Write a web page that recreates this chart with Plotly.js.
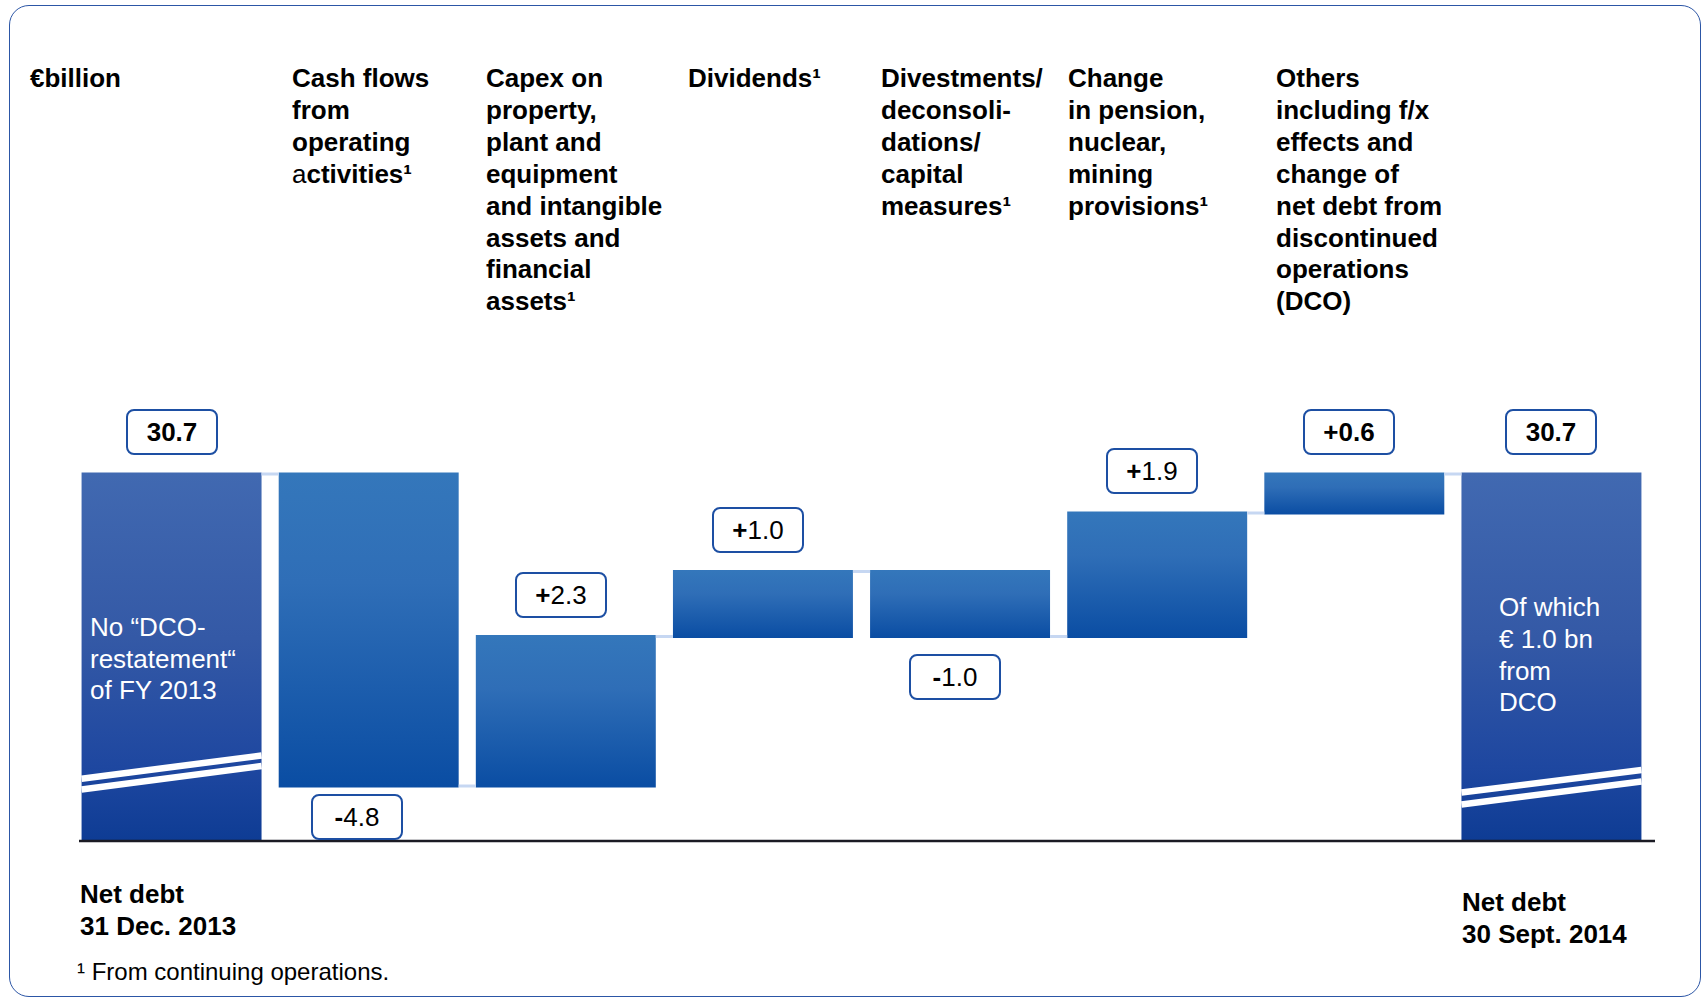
<!DOCTYPE html>
<html><head><meta charset="utf-8">
<script src="https://cdn.plot.ly/plotly-3.0.1.min.js"></script>
<style>
html,body{margin:0;padding:0;background:#fff;}
#chart{position:absolute;left:0;top:0;width:1707px;height:998px;}
#frame{position:absolute;left:9px;top:5px;width:1690px;height:990px;border:1.5px solid #2C56A6;border-radius:20px;pointer-events:none;}
</style></head><body>
<div id="chart"></div><div id="frame"></div>
<script>
// ---------- data ----------
const categories = ["Net debt 31 Dec. 2013","Cash flows from operating activities","Capex","Dividends","Divestments","Pension, nuclear, mining provisions","Others incl. DCO","Net debt 30 Sept. 2014"];
const measures = ["absolute","relative","relative","relative","relative","relative","relative","total"];
const values = [30.7, -4.8, 2.3, 1.0, -1.0, 1.9, 0.6, 30.7];
const unitLabel = "€billion";
const hdrCash = ["Cash flows","from","operating","<span style=\"font-weight:normal\">a</span>ctivities¹"];
const hdrCapex = ["Capex on","property,","plant and","equipment","and intangible","assets and","financial","assets¹"];
const hdrDividends = ["Dividends¹"];
const hdrDivest = ["Divestments/","deconsoli-","dations/","capital","measures¹"];
const hdrPension = ["Change","in pension,","nuclear,","mining","provisions¹"];
const hdrOthers = ["Others","including f/x","effects and","change of","net debt from","discontinued","operations","(DCO)"];
const startLabel = ["Net debt","31 Dec. 2013"];
const endLabel = ["Net debt","30 Sept. 2014"];
const startNote = ["No “DCO-","restatement“","of FY 2013"];
const endNote = ["Of which","€ 1.0 bn","from","DCO"];
const footnote = "¹ From continuing operations.";

// ---------- layout helpers ----------
const W = 1707, H = 998, ML = 73, MR = 57, MT = 340, MB = 157;
const PW = W - ML - MR, PH = H - MT - MB;
const px2x = px => (px - ML) / PW;
const py2y = py => (H - MB - py) / PH;
const FONT = "'Liberation Sans', Arial, sans-serif";

// running levels
const levels = [];
let run = 0;
values.forEach((v, i) => {
  if (measures[i] === 'absolute') run = v;
  else if (measures[i] === 'relative') run = run + v;
  levels.push(Math.round(run * 10) / 10);
});

const annotations = [];
function addLines(lines, xpx, ypx, dy, font, extra) {
  lines.forEach((t, k) => {
    annotations.push(Object.assign({
      xref: 'paper', yref: 'paper', x: px2x(xpx), y: py2y(ypx + k * dy),
      xanchor: 'left', yanchor: 'middle', showarrow: false, align: 'left',
      text: t, font: font, borderpad: 0, borderwidth: 0
    }, extra || {}));
  });
}
const hdrFont = {family: FONT, size: 26, color: '#000', weight: 700};
const LS = 31.9;
addLines([unitLabel], 30, 78, LS, hdrFont);
addLines(hdrCash, 292, 78, LS, hdrFont);
addLines(hdrCapex, 486, 78, LS, hdrFont);
addLines(hdrDividends, 688, 78, LS, hdrFont);
addLines(hdrDivest, 881, 78, LS, hdrFont);
addLines(hdrPension, 1068, 78, LS, hdrFont);
addLines(hdrOthers, 1276, 78, LS, hdrFont);
addLines(startLabel, 80, 894, 31.5, hdrFont);
addLines(endLabel, 1462, 902, 31.5, hdrFont);
const noteFont = {family: FONT, size: 26, color: '#ffffff'};
addLines(startNote, 90, 627, 31.5, noteFont);
addLines(endNote, 1499, 607, 31.8, noteFont);
addLines([footnote], 77, 971, 30, {family: FONT, size: 24, color: '#000'});

// value boxes
values.forEach((v, i) => {
  const isTotal = measures[i] !== 'relative';
  let txt;
  if (isTotal) txt = '<b>' + levels[i].toFixed(1) + '</b>';
  else {
    const sign = v > 0 ? '+' : '-';
    const num = Math.abs(v).toFixed(1);
    txt = (i === 6) ? '<b>' + sign + num + '</b>' : '<b>' + sign + '</b>' + num;
  }
  const up = isTotal || v > 0;
  annotations.push({
    xref: 'x', yref: 'y', x: i, y: levels[i],
    xanchor: 'center', yanchor: up ? 'bottom' : 'top',
    yshift: up ? 19 : (i === 1 ? -8 : -17),
    xshift: isTotal ? 0 : (i === 1 ? -12 : -5),
    showarrow: false, text: txt,
    font: {family: FONT, size: 26, color: '#000'},
    bgcolor: '#ffffff', bordercolor: '#1D4FA3', borderwidth: 2, borderpad: 2,
    width: 84, height: 38
  });
});

// decorative shapes: baseline + axis break marks
const HW = 0.4565;
const shapes = [
  {type: 'line', xref: 'paper', yref: 'paper', x0: px2x(79), x1: px2x(1655), y0: 0, y1: 0,
   line: {color: '#1b1b24', width: 2.5}, layer: 'above'}
];
function breakMark(i, yl, yr) {
  shapes.push({type: 'line', xref: 'x', yref: 'paper', x0: i - HW, x1: i + HW,
    y0: py2y(yl), y1: py2y(yr), line: {color: '#ffffff', width: 6.5}, layer: 'above'});
}
breakMark(0, 778.7, 755.5); breakMark(0, 789.5, 766);
breakMark(7, 792.5, 770); breakMark(7, 804.5, 781.5);

const trace = {
  type: 'waterfall', x: categories, y: values, measure: measures,
  textinfo: 'none', hoverinfo: 'skip',
  connector: {mode: 'between', line: {color: '#C6D7F2', width: 3}},
  increasing: {marker: {color: '#2A66B1'}},
  decreasing: {marker: {color: '#2A66B1'}},
  totals: {marker: {color: '#2D54A2'}}
};

const layout = {
  width: W, height: H, margin: {l: ML, r: MR, t: MT, b: MB},
  paper_bgcolor: '#ffffff', plot_bgcolor: '#ffffff',
  showlegend: false, waterfallgap: 0.087,
  xaxis: {type: 'category', range: [-0.5, 7.5], showticklabels: false, showgrid: false,
          zeroline: false, showline: false, ticks: '', fixedrange: true},
  yaxis: {range: [25.054, 25.054 + PH / 65], showticklabels: false, showgrid: false,
          zeroline: false, showline: false, ticks: '', fixedrange: true},
  annotations: annotations, shapes: shapes,
  font: {family: FONT}
};

const gd = document.getElementById('chart');
Plotly.newPlot(gd, [trace], layout, {displayModeBar: false, staticPlot: true}).then(function () {
  const ns = 'http://www.w3.org/2000/svg';
  const svg = gd.querySelector('.main-svg');
  let defs = svg.querySelector('defs');
  if (!defs) { defs = document.createElementNS(ns, 'defs'); svg.insertBefore(defs, svg.firstChild); }
  const plotH = gd._fullLayout._size.h;
  const paths = gd.querySelectorAll('.point path');
  paths.forEach(function (p, i) {
    const bb = p.getBBox();
    const y0 = Math.max(bb.y, 0), y1 = Math.min(bb.y + bb.height, plotH);
    const isTotal = measures[i] !== 'relative';
    const stops = isTotal
      ? [[0, '#4169B1'], [0.45, '#3459A6'], [0.8, '#1E47A0'], [1, '#0E3C94']]
      : [[0, '#3477BB'], [0.35, '#2F6EB7'], [1, '#0A4DA3']];
    const g = document.createElementNS(ns, 'linearGradient');
    g.setAttribute('id', 'barGrad' + i);
    g.setAttribute('gradientUnits', 'userSpaceOnUse');
    g.setAttribute('x1', 0); g.setAttribute('x2', 0);
    g.setAttribute('y1', y0); g.setAttribute('y2', y1);
    stops.forEach(function (s) {
      const st = document.createElementNS(ns, 'stop');
      st.setAttribute('offset', s[0]); st.setAttribute('stop-color', s[1]);
      g.appendChild(st);
    });
    defs.appendChild(g);
    p.style.fill = 'url(#barGrad' + i + ')';
  });
  gd.querySelectorAll('.annotation rect.bg').forEach(function (r) {
    r.setAttribute('rx', 7); r.setAttribute('ry', 7);
  });
});
</script>
</body></html>
